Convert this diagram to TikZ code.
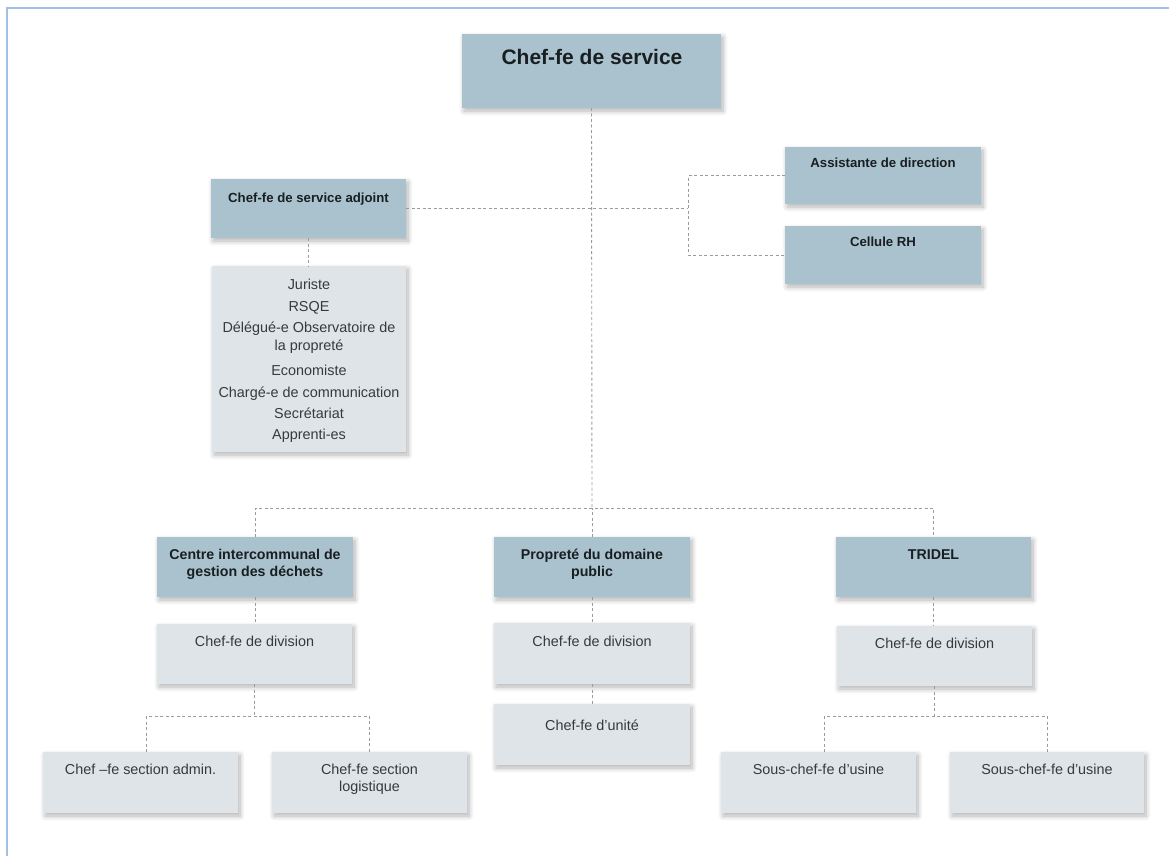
\documentclass[tikz,border=0pt]{standalone}
\usepackage{fontspec}
\setmainfont{Liberation Sans}
\usetikzlibrary{shadows.blur}
\definecolor{headfill}{RGB}{170,194,205}
\definecolor{subfill}{RGB}{222,228,231}
\definecolor{headtext}{RGB}{25,30,34}
\definecolor{subtext}{RGB}{55,58,60}
\definecolor{linec}{RGB}{155,155,155}
\definecolor{framec}{RGB}{160,192,232}
\newcommand\orgbox[6]{%
  \node[#2, anchor=north west, minimum width=#5pt, minimum height=#6pt] (#1) at (#3,#4) {};}
\begin{document}
\begin{tikzpicture}[x=1pt,y=-1pt,
  boxbase/.style={draw=none, inner sep=0pt, outer sep=0pt,
    blur shadow={shadow xshift=2pt, shadow yshift=-3pt, shadow blur steps=8, shadow blur radius=5pt, shadow opacity=30}},
  headbox/.style={boxbase, fill=headfill},
  subbox/.style={boxbase, fill=subfill},
  bigtitle/.style={anchor=base, inner sep=0pt, text=headtext, font=\bfseries\fontsize{21}{25}\selectfont},
  headtxt/.style={anchor=base, inner sep=0pt, text=headtext, font=\bfseries\fontsize{14.2}{17}\selectfont},
  smallhead/.style={anchor=base, inner sep=0pt, text=headtext, font=\bfseries\fontsize{13.2}{16}\selectfont},
  subtxt/.style={anchor=base, inner sep=0pt, text=subtext, font=\fontsize{14.4}{17}\selectfont},
  conn/.style={draw=linec, line width=0.9pt, dash pattern=on 3pt off 2.5pt}
]
\useasboundingbox (0,0) rectangle (1169,856);
\draw[framec, line width=2pt] (6.5,856) -- (6.5,8.5) -- (1169,8.5);

% boxes
\orgbox{svc}{headbox}{462}{34}{259}{74}
\orgbox{adj}{headbox}{211}{179}{195}{59}
\orgbox{asst}{headbox}{785}{147}{196}{57}
\orgbox{rh}{headbox}{785}{226}{196}{58}
\orgbox{list}{subbox}{212}{266}{194}{186}
\orgbox{cig}{headbox}{157}{537}{196}{60}
\orgbox{div1}{subbox}{157}{624}{195}{60}
\orgbox{admin}{subbox}{43}{752}{195}{61}
\orgbox{logi}{subbox}{272}{752}{195}{61}
\orgbox{prop}{headbox}{494}{537}{196}{60}
\orgbox{div2}{subbox}{494}{623}{196}{61}
\orgbox{unit}{subbox}{494}{704}{196}{61}
\orgbox{tri}{headbox}{836}{537}{195}{60}
\orgbox{div3}{subbox}{837}{626}{195}{60}
\orgbox{us1}{subbox}{721}{752}{195}{61}
\orgbox{us2}{subbox}{950}{752}{194}{61}

% texts
\node[bigtitle] (svc-t) at (592,65) {Chef-fe de service};
\node[smallhead] (adj-t) at (308.5,202) {Chef-fe de service adjoint};
\node[smallhead] (asst-t) at (883,167) {Assistante de direction};
\node[smallhead] (rh-t) at (883,246) {Cellule RH};
\node[subtxt] (l1) at (309,289) {Juriste};
\node[subtxt] (l2) at (309,311) {RSQE};
\node[subtxt] (l3) at (309,332) {Délégué-e Observatoire de};
\node[subtxt] (l4) at (309,350) {la propreté};
\node[subtxt] (l5) at (309,375) {Economiste};
\node[subtxt] (l6) at (309,397) {Chargé-e de communication};
\node[subtxt] (l7) at (309,418) {Secrétariat};
\node[subtxt] (l8) at (309,439) {Apprenti-es};
\node[headtxt] (cig-t1) at (255,559) {Centre intercommunal de};
\node[headtxt] (cig-t2) at (255,576) {gestion des déchets};
\node[subtxt] (div1-t) at (254.5,646) {Chef-fe de division};
\node[subtxt] (admin-t) at (140.5,774) {Chef –fe section admin.};
\node[subtxt] (logi-t1) at (369.5,774) {Chef-fe section};
\node[subtxt] (logi-t2) at (369.5,791) {logistique};
\node[headtxt] (prop-t1) at (592,559) {Propreté du domaine};
\node[headtxt] (prop-t2) at (592,576) {public};
\node[subtxt] (div2-t) at (592,646) {Chef-fe de division};
\node[subtxt] (unit-t) at (592,730) {Chef-fe d’unité};
\node[headtxt] (tri-t) at (933.5,559) {TRIDEL};
\node[subtxt] (div3-t) at (934.5,648) {Chef-fe de division};
\node[subtxt] (us1-t) at (818.5,774) {Sous-chef-fe d’usine};
\node[subtxt] (us2-t) at (1047,774) {Sous-chef-fe d’usine};

% connectors
\coordinate (hbar) at (592,508);
\coordinate (rj) at (688,208);
\coordinate (br1) at (255,716);
\coordinate (br3) at (934,716);
\draw[conn] (svc.south) -- (hbar);
\draw[conn] (cig.north) -- (cig.north |- hbar) -- (tri.north |- hbar) -- (tri.north);
\draw[conn] (prop.north) -- (prop.north |- hbar);
\draw[conn] (adj.east) -- (adj.east -| rj);
\draw[conn] (asst.west) -- (asst.west -| rj) -- (rh.west -| rj) -- (rh.west);
\draw[conn] (adj.south) -- (adj.south |- list.north);
\draw[conn] (cig.south) -- (cig.south |- div1.north);
\draw[conn] (div1.south) -- (div1.south |- br1);
\draw[conn] ([xshift=6pt]admin.north) -- ([xshift=6pt]admin.north |- br1) -- (logi.north |- br1) -- (logi.north);
\draw[conn] (prop.south) -- (prop.south |- div2.north);
\draw[conn] (div2.south) -- (div2.south |- unit.north);
\draw[conn] (tri.south) -- (tri.south |- div3.north);
\draw[conn] (div3.south) -- (div3.south |- br3);
\draw[conn] ([xshift=6pt]us1.north) -- ([xshift=6pt]us1.north |- br3) -- (us2.north |- br3) -- (us2.north);
\end{tikzpicture}
\end{document}
